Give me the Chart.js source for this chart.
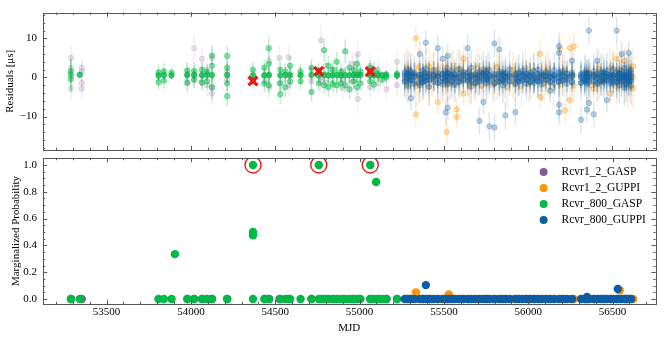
<!DOCTYPE html>
<html><head><meta charset="utf-8">
<script src="https://cdn.jsdelivr.net/npm/chart.js@4.4.1/dist/chart.umd.min.js"></script>
<style>
html,body{margin:0;padding:0;background:#fff;}
#wrap{position:relative;width:665px;height:337px;overflow:hidden;}
canvas{position:absolute;left:0;top:0;}
</style>
</head><body>
<div id="wrap"><canvas id="cTop" width="665" height="337"></canvas><canvas id="cBot" width="665" height="337"></canvas></div>
<script>
// ---------------- DATA ----------------
const seriesNames = ['Rcvr1_2_GASP', 'Rcvr1_2_GUPPI', 'Rcvr_800_GASP', 'Rcvr_800_GUPPI'];
const seriesColors = ['#845B97', '#FF9500', '#00B945', '#0C5DA5'];

const xTickValues = [53500, 54000, 54500, 55000, 55500, 56000, 56500];
const resTickValues = [-10, 0, 10];
const probTickValues = [0, 0.2, 0.4, 0.6, 0.8, 1.0];

// Rcvr1_2_GASP (purple) residuals per epoch
const purpleEpochs = [53290, 53353, 53980, 54019, 54066, 54096, 54125, 54215, 54440, 54465, 54525, 54580, 54715, 54770, 54800, 54845, 54900, 54960, 54990, 55063, 55110, 55160, 55222];
const purpleRes = [
  [5.0, 2.4, -2.8, 0.3], [2.5, 1.5, -1.4, -2.9], [1.0, -1.2], [7.5, 1.0, -0.5], [4.8, 0.8, -1.5],
  [2.0, -1.9], [5.0, -2.5, -4.0], [1.5, -0.5], [0.5, -1.0], [4.2, -2.5, 0.5], [5.0, -1.5],
  [5.2, 0.5, -2.0], [2.0, -1.0], [9.5, 0.0, -1.0], [3.0, -1.3], [2.0, -2.0], [1.5, -0.5, -2.5],
  [3.5, -1.0], [6.0, -5.5, 1.0], [3.0, -2.5], [2.0, -1.5], [1.0, -3.0], [4.0, 0.5, -2.0]
];
const purpleErr = [
  [3.0, 3.5, 3.0, 3.5], [2.5, 2.5, 2.0, 2.5], [3.0, 3.0], [3.5, 3.0, 2.5], [3.0, 3.0, 2.5],
  [3.0, 3.0], [3.5, 3.0, 3.0], [3.0, 3.0], [3.0, 3.0], [3.5, 3.0, 3.0], [3.0, 3.0],
  [3.0, 2.5, 3.0], [3.0, 3.0], [4.0, 3.0, 3.0], [3.0, 3.0], [3.0, 3.0], [3.0, 3.0, 3.0],
  [3.0, 3.0], [3.5, 3.5, 3.0], [3.0, 3.0], [3.0, 3.0], [3.0, 3.0], [3.0, 3.0, 3.0]
];

// Rcvr1_2_GUPPI (orange)
const orangeEpochs = [55280, 55300, 55334, 55350, 55380, 55410, 55430, 55464, 55480, 55517, 55535, 55555, 55576, 55600, 55617, 55650, 55680, 55700, 55725, 55760, 55790, 55815, 55840, 55875, 55910, 55935, 55960, 55985, 56005, 56030, 56071, 56095, 56120, 56150, 56189, 56218, 56248, 56271, 56340, 56370, 56389, 56420, 56445, 56484, 56500, 56525, 56545, 56572, 56590, 56602, 56622];
const orangeRes = [
  [0.5, -1.8, 2.4], [-0.6, 1.9], [0.8, 10.1, -9.4, -2.2], [0.2, 2.6, -1.5], [-0.9, 1.4],
  [0.6, -2.4, 2.9], [-0.3, 1.7], [0.4, -6.3, 2.2], [-1.2, 1.0], [0.3, -14.0, 2.5, -2.0],
  [0.9, -1.6], [-0.4, 2.3], [0.2, -8.2, -10.1, 1.8], [-0.8, 2.0], [0.5, -4.1, 4.8],
  [-0.5, 1.6, -2.3], [0.7, -1.4], [-0.2, 2.5], [0.4, -2.1, 1.3], [-0.6, 2.2],
  [0.3, -1.9], [0.8, 2.7, -1.2], [-0.4, 1.5], [0.2, -2.5], [0.6, 2.0, -1.0],
  [-0.7, 1.2], [0.4, -2.2], [-0.1, 2.4], [0.5, -1.7], [-0.3, 1.9],
  [0.2, 6.0, -5.0], [0.7, -1.5], [-0.5, 2.1], [0.3, -2.6], [0.6, 7.2, -1.8],
  [-0.4, -8.4, 2.0], [0.2, 7.5, -5.8], [0.5, 8.0, -2.1], [-0.3, 1.8], [0.4, -2.0],
  [-2.9, 0.8], [0.2, 2.2, -1.4], [-0.6, 1.5], [0.3, -4.1, 2.4], [-0.2, 1.9],
  [0.5, 4.8, -2.3], [-0.4, 2.0], [0.6, 4.3, -2.0], [-0.3, 2.6, -2.5], [0.0, 1.7, -1.9],
  [0.1, 2.8, -2.8]
];
const orangeErr = [
  [3.5, 4.5, 5.0], [4.5, 5.0], [3.5, 3.0, 3.0, 5.0], [3.5, 5.0, 4.5], [4.5, 4.5],
  [3.5, 5.0, 5.0], [4.5, 4.5], [3.5, 3.0, 4.5], [4.5, 4.0], [3.5, 3.5, 4.5, 4.5],
  [3.5, 4.5], [4.5, 5.0], [3.5, 3.0, 3.0, 4.5], [4.5, 4.5], [3.5, 3.0, 3.5],
  [4.5, 4.5, 5.0], [3.5, 4.5], [4.5, 5.0], [3.5, 4.5, 4.5], [4.5, 5.0],
  [3.5, 4.5], [3.5, 5.0, 4.5], [4.5, 4.5], [3.5, 5.0], [3.5, 4.5, 4.5],
  [4.5, 4.5], [3.5, 5.0], [4.5, 5.0], [3.5, 4.5], [4.5, 4.5],
  [3.5, 3.5, 3.0], [3.5, 4.5], [4.5, 5.0], [3.5, 5.0], [3.5, 3.5, 4.5],
  [4.5, 3.0, 4.5], [3.5, 3.5, 3.0], [3.5, 3.5, 4.5], [4.5, 4.5], [3.5, 5.0],
  [3.0, 3.5], [3.5, 5.0, 4.5], [4.5, 4.5], [3.5, 3.0, 5.0], [4.5, 4.5],
  [3.5, 3.5, 4.5], [4.5, 5.0], [3.5, 3.5, 4.5], [4.5, 5.0, 5.0], [3.5, 4.5, 4.5],
  [3.5, 5.0, 5.0]
];

// Rcvr_800_GASP (green)
const greenEpochs = [53288, 53341, 53808, 53840, 53885, 53978, 54019, 54066, 54096, 54125, 54215, 54368, 54435, 54462, 54530, 54560, 54588, 54650, 54715, 54758, 54790, 54815, 54840, 54865, 54890, 54915, 54940, 54965, 54985, 55005, 55063, 55085, 55110, 55135, 55158, 55222];
const greenRes = [
  [0.8, 1.6, -0.4], [0.7, 0.7], [0.6, 0.4, 1.3, -1.2], [0.6, 0.7, 1.6, -0.8], [0.6, 0.5, 1.2],
  [0.5, 0.7, -1.4, 1.8], [0.6, 0.6, 1.7, -0.6], [0.6, 0.5, 2.0, -1.2], [0.6, 0.8, -1.0, 1.5],
  [0.7, 0.5, 3.0, -2.5, 5.6], [0.6, 0.7, 5.5, -4.8, 2.5, -1.5], [0.5, 0.6, 2.0, -0.9, -0.9],
  [0.6, 0.5, 2.5, -1.5], [0.7, 0.6, 7.5, 3.5, -2.0], [0.6, 0.5, -4.3, 2.0, -1.5],
  [0.6, 0.7, 1.5, -2.5], [0.7, 0.5, 3.0, -1.0], [0.6, 0.6, 1.5, -1.0], [0.6, 0.7, -3.7, 2.5],
  [0.6, 0.5, 1.7, -1.5, 1.6], [0.6, 0.7, 7.0, -2.0], [0.5, 0.6, 3.0, -2.5], [0.6, 0.6, 2.0, -1.5],
  [0.6, 0.7, 4.0, -2.0], [0.5, 0.6, 1.5, -1.5], [0.6, 0.6, 6.7, -2.0], [0.6, 0.5, 2.5, -3.0],
  [0.7, 0.6, 2.0, -1.0], [0.6, 0.6, -2.5, 3.5], [0.6, 0.7, 1.5, -1.5],
  [0.5, 0.6, 1.5, 2.5, -1.0, 1.5], [0.6, 0.7, 2.0, -1.8], [0.5, 0.6, 1.0], [0.6, 0.5, -0.5],
  [0.6, 0.7, 0.0], [0.6, 0.5, 1.0]
];
const greenErr = [
  [4.0, 3.0, 3.5], [0.8, 0.8], [1.5, 1.5, 2.0, 2.0], [1.5, 1.5, 2.0, 2.0], [1.0, 1.0, 1.5],
  [1.5, 1.5, 2.0, 2.0], [1.5, 1.5, 2.0, 2.0], [1.8, 1.8, 2.0, 2.0], [1.5, 1.5, 2.0, 2.0],
  [2.0, 2.0, 3.0, 3.0, 2.5], [2.5, 2.0, 2.5, 2.5, 2.0, 2.0], [1.5, 1.5, 2.0, 2.0, 1.0],
  [2.0, 2.0, 2.0, 2.0], [2.0, 2.0, 3.0, 2.0, 2.0], [2.0, 2.0, 2.5, 2.0, 2.0],
  [2.0, 2.0, 2.0, 2.5], [2.0, 2.0, 2.5, 2.0], [2.0, 2.0, 2.0, 2.0], [2.0, 2.0, 2.5, 2.0],
  [2.0, 2.0, 2.0, 2.0, 1.0], [2.0, 2.0, 3.0, 2.0], [2.0, 2.0, 2.5, 2.5], [2.0, 2.0, 2.0, 2.0],
  [2.0, 2.0, 2.5, 2.0], [2.0, 2.0, 2.0, 2.0], [2.0, 2.0, 3.0, 2.0], [2.0, 2.0, 2.0, 2.5],
  [2.0, 2.0, 2.0, 2.0], [2.0, 2.0, 2.0, 2.5], [2.0, 2.0, 2.0, 2.0],
  [2.0, 2.0, 2.0, 2.0, 2.0, 1.0], [2.0, 2.0, 2.0, 2.0], [1.5, 1.5, 2.0], [1.0, 1.0, 1.5],
  [1.0, 1.0, 1.5], [1.0, 1.0, 1.5]
];

// Rcvr_800_GUPPI (blue)
const blueEpochs = [55268, 55288, 55305, 55325, 55357, 55375, 55393, 55413, 55440, 55464, 55493, 55511, 55523, 55545, 55565, 55590, 55615, 55641, 55662, 55688, 55711, 55735, 55752, 55770, 55800, 55829, 55850, 55865, 55890, 55924, 55945, 55968, 55990, 56012, 56035, 56058, 56080, 56105, 56130, 56155, 56183, 56205, 56230, 56260, 56313, 56335, 56348, 56360, 56389, 56410, 56432, 56450, 56466, 56488, 56505, 56525, 56540, 56554, 56570, 56582, 56596, 56610];
const blueRes = [
  [0.3, -1.1, 1.4, 0.9, -0.3, -1.0],
  [-0.4, 0.9, 2.0, -2.2, -0.8, 0.5, 1.1],
  [0.6, -0.8, -5.3, 1.5, 1.0, -0.6, 0.2],
  [0.2, 1.2, -1.6, -1.1, 0.3, 0.8],
  [-0.5, 0.7, 6.0, -2.0, 0.6, -1.4, 0.0],
  [0.4, -1.3, 1.8, 0.9, -0.3, -1.0],
  [0.1, 8.9, -0.9, 2.3, -0.8, 0.5, 1.1],
  [-0.7, 0.8, -2.4, 1.0, -0.6, 0.2],
  [0.5, -0.4, 1.9, -1.1, 0.3, 0.8],
  [0.2, 7.5, -1.4, 1.1, 0.6, -1.4, 0.0],
  [-0.3, 4.8, 0.9, -1.8, 0.9, -0.3, -1.0],
  [0.4, -8.9, -0.6, 1.6, -0.8, 0.5, 1.1],
  [0.0, 5.5, -7.7, 1.2, -1.5, 1.0, -0.6, 0.2],
  [0.6, -0.9, 1.7, -1.1, 0.3, 0.8],
  [-0.2, 1.0, -1.9, 0.6, -1.4, 0.0],
  [0.3, -1.2, 2.2, 0.9, -0.3, -1.0],
  [-0.5, 0.7, 1.5, -0.8, 0.5, 1.1],
  [0.2, 7.5, -1.0, 1.3, 1.0, -0.6, 0.2],
  [0.4, -0.7, 2.5, -2.3, -1.1, 0.3, 0.8],
  [-0.1, 1.1, -1.5, 0.6, -1.4, 0.0],
  [0.5, -11.1, -0.8, 1.4, 0.9, -0.3, -1.0],
  [-0.3, -6.3, 0.9, 2.0, -0.8, 0.5, 1.1],
  [0.2, -1.4, 1.6, 1.0, -0.6, 0.2],
  [0.6, -12.5, -0.5, 1.9, -1.1, 0.3, 0.8],
  [-0.2, -12.8, 8.7, 1.0, -1.6, 0.6, -1.4, 0.0],
  [0.3, 7.2, -1.1, 1.5, 0.9, -0.3, -1.0],
  [-0.6, 0.8, -2.0, -0.8, 0.5, 1.1],
  [0.1, -9.7, 1.2, -1.3, 1.0, -0.6, 0.2],
  [0.4, -0.9, 2.1, -1.1, 0.3, 0.8],
  [-0.3, -8.9, 1.0, -1.7, 0.6, -1.4, 0.0],
  [0.2, 1.4, -1.0, 0.9, -0.3, -1.0],
  [0.5, -0.6, 1.8, -0.8, 0.5, 1.1],
  [-0.4, 0.9, -1.5, 1.0, -0.6, 0.2],
  [0.3, -1.2, 1.3, -1.1, 0.3, 0.8],
  [0.0, 1.6, -0.8, 0.6, -1.4, 0.0],
  [0.4, -1.0, 2.0, 0.9, -0.3, -1.0],
  [-0.2, 0.7, -1.8, -0.8, 0.5, 1.1],
  [0.3, -0.6, 1.5, 1.0, -0.6, 0.2],
  [0.1, -3.4, 1.1, -1.2, -1.1, 0.3, 0.8],
  [-0.5, 0.6, 1.9, 0.6, -1.4, 0.0],
  [0.2, -7.0, -8.9, 6.3, 8.0, -1.1, 1.4, 0.9, -0.3, -1.0],
  [0.4, -0.8, 1.7, -0.8, 0.5, 1.1],
  [-0.3, 1.0, -1.6, 1.0, -0.6, 0.2],
  [0.3, 4.3, -1.2, 1.2, -1.1, 0.3, 0.8],
  [0.1, -10.8, 0.9, -1.4, 0.6, -1.4, 0.0],
  [-0.4, 1.3, -0.9, 0.9, -0.3, -1.0],
  [0.2, -8.2, 1.0, -1.5, -0.8, 0.5, 1.1],
  [0.0, 12.0, -6.5, 1.1, -1.2, 1.0, -0.6, 0.2],
  [0.3, -9.4, -0.8, 1.6, -1.1, 0.3, 0.8],
  [-0.2, 4.3, 1.0, -1.7, 0.6, -1.4, 0.0],
  [0.4, -0.9, 1.5, 0.9, -0.3, -1.0],
  [-0.1, 1.2, -1.3, -0.8, 0.5, 1.1],
  [0.3, -5.8, -0.7, 1.8, 1.0, -0.6, 0.2],
  [-0.4, 0.8, -1.6, -1.1, 0.3, 0.8],
  [0.5, -1.0, 2.2, 0.6, -1.4, 0.0],
  [0.1, 12.0, -1.3, 1.4, 0.9, -0.3, -1.0],
  [-0.3, 0.9, -2.0, -0.8, 0.5, 1.1],
  [0.2, 6.0, -1.1, 1.7, 1.0, -0.6, 0.2],
  [0.4, -0.7, 2.4, -2.6, -1.1, 0.3, 0.8],
  [-0.2, 1.3, -1.8, 0.6, -1.4, 0.0],
  [0.3, 6.3, -1.0, 1.5, 0.9, -0.3, -1.0],
  [0.1, -0.8, 1.9, -2.2, -0.8, 0.5, 1.1]
];
const blueErr = [
  [3.4, 4.2, 4.8, 2.8, 3.2, 3.6],
  [3.6, 3.0, 4.8, 4.4, 3.0, 2.6, 3.4],
  [3.0, 4.0, 3.2, 4.6, 3.4, 3.0, 2.6],
  [3.6, 4.4, 3.8, 2.6, 3.6, 3.0],
  [3.2, 3.8, 3.2, 4.4, 3.2, 2.8, 3.8],
  [3.0, 4.6, 4.2, 2.8, 3.2, 3.6],
  [3.8, 3.0, 3.6, 5.0, 3.0, 2.6, 3.4],
  [4.2, 3.2, 4.8, 3.4, 3.0, 2.6],
  [3.8, 3.0, 4.6, 2.6, 3.6, 3.0],
  [3.2, 3.5, 4.0, 3.6, 3.2, 2.8, 3.8],
  [3.6, 3.2, 3.0, 4.4, 2.8, 3.2, 3.6],
  [3.0, 3.5, 3.8, 4.4, 3.0, 2.6, 3.4],
  [3.8, 3.0, 3.0, 3.6, 4.6, 3.4, 3.0, 2.6],
  [3.2, 4.4, 4.8, 2.6, 3.6, 3.0],
  [3.8, 3.6, 4.4, 3.2, 2.8, 3.8],
  [3.0, 4.0, 5.0, 2.8, 3.2, 3.6],
  [3.6, 3.2, 4.4, 3.0, 2.6, 3.4],
  [3.2, 3.5, 3.8, 4.0, 3.4, 3.0, 2.6],
  [3.0, 3.6, 4.6, 4.4, 2.6, 3.6, 3.0],
  [3.8, 4.0, 4.4, 3.2, 2.8, 3.8],
  [3.2, 3.5, 3.6, 4.4, 2.8, 3.2, 3.6],
  [3.6, 3.0, 3.2, 4.8, 3.0, 2.6, 3.4],
  [3.0, 4.4, 4.0, 3.4, 3.0, 2.6],
  [3.6, 3.5, 3.8, 4.6, 2.6, 3.6, 3.0],
  [3.2, 3.5, 3.5, 3.6, 4.4, 3.2, 2.8, 3.8],
  [3.8, 3.2, 4.0, 4.4, 2.8, 3.2, 3.6],
  [3.6, 3.0, 4.6, 3.0, 2.6, 3.4],
  [3.2, 3.5, 3.8, 4.0, 3.4, 3.0, 2.6],
  [3.0, 3.8, 4.8, 2.6, 3.6, 3.0],
  [3.6, 3.2, 3.2, 4.4, 3.2, 2.8, 3.8],
  [3.2, 4.4, 3.8, 2.8, 3.2, 3.6],
  [3.0, 3.6, 4.6, 3.0, 2.6, 3.4],
  [3.8, 3.2, 4.4, 3.4, 3.0, 2.6],
  [3.2, 4.4, 3.8, 2.6, 3.6, 3.0],
  [3.6, 4.6, 3.2, 3.2, 2.8, 3.8],
  [3.0, 4.0, 4.8, 2.8, 3.2, 3.6],
  [3.6, 3.2, 4.4, 3.0, 2.6, 3.4],
  [3.2, 3.8, 4.4, 3.4, 3.0, 2.6],
  [3.0, 3.0, 3.6, 4.0, 2.6, 3.6, 3.0],
  [3.8, 3.2, 4.6, 3.2, 2.8, 3.8],
  [3.2, 3.5, 3.0, 3.0, 3.5, 3.8, 4.0, 2.8, 3.2, 3.6],
  [3.0, 4.0, 4.4, 3.0, 2.6, 3.4],
  [3.6, 3.2, 4.4, 3.4, 3.0, 2.6],
  [3.2, 3.0, 4.0, 3.6, 2.6, 3.6, 3.0],
  [3.0, 3.5, 3.6, 4.4, 3.2, 2.8, 3.8],
  [3.6, 4.4, 3.2, 2.8, 3.2, 3.6],
  [3.2, 3.2, 3.6, 4.4, 3.0, 2.6, 3.4],
  [3.6, 3.5, 3.0, 3.8, 4.0, 3.4, 3.0, 2.6],
  [3.0, 3.2, 3.6, 4.4, 2.6, 3.6, 3.0],
  [3.6, 3.0, 3.2, 4.4, 3.2, 2.8, 3.8],
  [3.2, 3.8, 4.4, 2.8, 3.2, 3.6],
  [3.0, 4.0, 3.8, 3.0, 2.6, 3.4],
  [3.6, 3.0, 3.2, 4.6, 3.4, 3.0, 2.6],
  [3.2, 3.6, 4.4, 2.6, 3.6, 3.0],
  [3.0, 4.0, 4.8, 3.2, 2.8, 3.8],
  [3.6, 3.5, 4.0, 3.8, 2.8, 3.2, 3.6],
  [3.2, 3.6, 4.6, 3.0, 2.6, 3.4],
  [3.0, 3.2, 3.8, 4.4, 3.4, 3.0, 2.6],
  [3.6, 3.2, 4.8, 4.6, 2.6, 3.6, 3.0],
  [3.2, 4.0, 4.4, 3.2, 2.8, 3.8],
  [3.0, 3.0, 3.8, 4.4, 2.8, 3.2, 3.6],
  [3.6, 3.8, 4.6, 4.8, 3.0, 2.6, 3.4]
];

// TOAs flagged as outliers (red crosses / red circles)
const flaggedMJD = [54368, 54758, 55063];
const flaggedRes = [-0.9, 1.6, 1.5];
const flaggedProb = [1.0, 1.0, 1.0];

// Marginalized outlier probabilities (bottom panel)
const purpleProbMJD = [53290, 53353, 53980, 54019, 54066, 54096, 54125, 54215, 54440, 54465, 54525, 54580, 54715, 54770, 54800, 54845, 54900, 54960, 54990, 55063, 55110, 55160, 55222];
const purpleProb = [0, 0, 0, 0, 0, 0, 0, 0, 0, 0, 0, 0, 0, 0, 0, 0, 0, 0, 0, 0, 0, 0, 0];

const orangeProbMJD = [55280, 55300, 55334, 55350, 55380, 55410, 55430, 55464, 55480, 55517, 55535, 55555, 55576, 55600, 55617, 55650, 55680, 55700, 55725, 55760, 55790, 55815, 55840, 55875, 55910, 55935, 55960, 55985, 56005, 56030, 56071, 56095, 56120, 56150, 56189, 56218, 56248, 56271, 56340, 56370, 56389, 56420, 56445, 56484, 56500, 56525, 56545, 56572, 56590, 56602, 56622, 55334, 55529, 56543];
const orangeProb = [0, 0, 0, 0, 0, 0, 0, 0, 0, 0, 0, 0, 0, 0, 0, 0, 0, 0, 0, 0, 0, 0, 0, 0, 0, 0, 0, 0, 0, 0, 0, 0, 0, 0, 0, 0, 0, 0, 0, 0, 0, 0, 0, 0, 0, 0, 0, 0, 0, 0, 0, 0.05, 0.035, 0.065];

const greenProbMJD = [53288, 53341, 53808, 53840, 53885, 53978, 54019, 54066, 54096, 54125, 54215, 54368, 54435, 54462, 54530, 54560, 54588, 54650, 54715, 54758, 54790, 54815, 54840, 54865, 54890, 54915, 54940, 54965, 54985, 55005, 55063, 55085, 55110, 55135, 55158, 55222, 53905, 54368, 54368, 54368, 54758, 55063, 55098];
const greenProb = [0, 0, 0, 0, 0, 0, 0, 0, 0, 0, 0, 0, 0, 0, 0, 0, 0, 0, 0, 0, 0, 0, 0, 0, 0, 0, 0, 0, 0, 0, 0, 0, 0, 0, 0, 0, 0.335, 1.0, 0.5, 0.475, 1.0, 1.0, 0.873];

const blueProbMJD = [55268, 55288, 55305, 55325, 55357, 55375, 55393, 55413, 55440, 55464, 55493, 55511, 55523, 55545, 55565, 55590, 55615, 55641, 55662, 55688, 55711, 55735, 55752, 55770, 55800, 55829, 55850, 55865, 55890, 55924, 55945, 55968, 55990, 56012, 56035, 56058, 56080, 56105, 56130, 56155, 56183, 56205, 56230, 56260, 56313, 56335, 56348, 56360, 56389, 56410, 56432, 56450, 56466, 56488, 56505, 56525, 56540, 56554, 56570, 56582, 56596, 56610, 55393, 56531, 56348];
const blueProb = [0, 0, 0, 0, 0, 0, 0, 0, 0, 0, 0, 0, 0, 0, 0, 0, 0, 0, 0, 0, 0, 0, 0, 0, 0, 0, 0, 0, 0, 0, 0, 0, 0, 0, 0, 0, 0, 0, 0, 0, 0, 0, 0, 0, 0, 0, 0, 0, 0, 0, 0, 0, 0, 0, 0, 0, 0, 0, 0, 0, 0, 0, 0.104, 0.075, 0.015];

// ---------------- HELPERS ----------------
function rgba(hex, a) {
  const n = parseInt(hex.slice(1), 16);
  return 'rgba(' + ((n >> 16) & 255) + ',' + ((n >> 8) & 255) + ',' + (n & 255) + ',' + a + ')';
}
function toaPoints(epochs, res, err) {
  const pts = [];
  epochs.forEach((m, i) => res[i].forEach((r, j) => pts.push({x: m, y: r, e: err[i] ? err[i][j] : undefined})));
  return pts;
}
function pairPoints(xs, ys) { return xs.map((x, i) => ({x: x, y: ys[i]})); }

const X_MIN = 53123, X_MAX = 56755;
const FONT = "'Liberation Serif', 'DejaVu Serif', serif";
Chart.defaults.font.family = FONT;
Chart.defaults.font.size = 11;
Chart.defaults.color = '#000';

const errorBars = {
  id: 'errorBars',
  beforeDatasetDraw(chart, args) {
    const ds = chart.data.datasets[args.index];
    if (!ds.errorColor) return;
    const {ctx, chartArea: a} = chart;
    const xs = chart.scales.x, ys = chart.scales.y;
    ctx.save();
    ctx.beginPath(); ctx.rect(a.left, a.top, a.right - a.left, a.bottom - a.top); ctx.clip();
    ctx.strokeStyle = ds.errorColor; ctx.lineWidth = ds.errorWidth;
    ds.data.forEach(p => {
      if (p.e === undefined) return;
      const px = xs.getPixelForValue(p.x);
      ctx.beginPath();
      ctx.moveTo(px, ys.getPixelForValue(p.y - p.e));
      ctx.lineTo(px, ys.getPixelForValue(p.y + p.e));
      ctx.stroke();
    });
    ctx.restore();
  }
};

const frame = {
  id: 'frame',
  afterDatasetsDraw(chart, args, o) {
    const {ctx, chartArea: a} = chart;
    const xs = chart.scales.x, ys = chart.scales.y;
    const L = a.left, R = a.right, T = a.top, B = a.bottom;
    ctx.save();
    ctx.strokeStyle = o.color; ctx.lineWidth = o.width;
    const seg = (x1, y1, x2, y2) => { ctx.beginPath(); ctx.moveTo(x1, y1); ctx.lineTo(x2, y2); ctx.stroke(); };
    const vx = (v, len) => { const p = Math.round(xs.getPixelForValue(v)) + 0.5; if (p < L + 1 || p > R - 1) return; seg(p, B, p, B - len); seg(p, T, p, T + len); };
    const vy = (v, len) => { const p = Math.round(ys.getPixelForValue(v)) + 0.5; if (p < T + 1 || p > B - 1) return; seg(L, p, L + len, p); seg(R, p, R - len, p); };
    for (let k = Math.ceil(xs.min / o.xMinor); k * o.xMinor <= xs.max; k++) vx(k * o.xMinor, 2.2);
    o.xMajor.forEach(v => vx(v, 4.2));
    for (let k = Math.ceil(ys.min / o.yMinor - 1e-9); k * o.yMinor <= ys.max + 1e-9; k++) vy(k * o.yMinor, 2.2);
    o.yMajor.forEach(v => vy(v, 4.2));
    ctx.strokeRect(Math.round(L) + 0.5, Math.round(T) + 0.5, Math.round(R - L), Math.round(B - T));
    ctx.restore();
  }
};

const legendBox = {
  id: 'legendBox',
  afterDraw(chart, args, o) {
    const {ctx, chartArea: a} = chart;
    ctx.save();
    ctx.font = o.font; ctx.textBaseline = 'middle'; ctx.textAlign = 'left';
    seriesNames.forEach((name, i) => {
      const y = a.top + o.top + i * o.gap;
      ctx.fillStyle = seriesColors[i];
      ctx.beginPath(); ctx.arc(a.right - o.markerRight, y, 4, 0, Math.PI * 2); ctx.fill();
      ctx.fillStyle = '#000';
      ctx.fillText(name, a.right - o.textRight, y);
    });
    ctx.restore();
  }
};

// ---------------- TOP PANEL ----------------
const topAlpha = [0.18, 0.32, 0.45, 0.28];
const topEpochs = [purpleEpochs, orangeEpochs, greenEpochs, blueEpochs];
const topRes = [purpleRes, orangeRes, greenRes, blueRes];
const topErr = [purpleErr, orangeErr, greenErr, blueErr];
const topDatasets = seriesNames.map((name, i) => ({
  label: name,
  data: toaPoints(topEpochs[i], topRes[i], topErr[i]),
  errorColor: rgba(seriesColors[i], topAlpha[i] * 0.55),
  errorWidth: 1.5,
  backgroundColor: rgba(seriesColors[i], topAlpha[i]),
  borderColor: rgba(seriesColors[i], Math.min(1, topAlpha[i] * 1.2)),
  borderWidth: 0.8,
  pointRadius: 2.7,
  order: 4 - i
}));
topDatasets.push({
  label: 'flagged',
  data: pairPoints(flaggedMJD, flaggedRes),
  pointStyle: 'crossRot',
  pointRadius: 6.3,
  borderColor: '#F01414',
  borderWidth: 3.2,
  order: 0
});

new Chart(document.getElementById('cTop'), {
  type: 'scatter',
  data: {datasets: topDatasets},
  plugins: [errorBars, frame],
  options: {
    responsive: false, animation: false, events: [],
    layout: {padding: {top: 4, right: 6, bottom: 187, left: 0}},
    plugins: {
      legend: {display: false}, tooltip: {enabled: false},
      frame: {color: '#555', width: 1, xMajor: xTickValues, xMinor: 100, yMajor: resTickValues, yMinor: 2}
    },
    scales: {
      x: {type: 'linear', display: false, min: X_MIN, max: X_MAX},
      y: {
        type: 'linear', min: -18.55, max: 16.6,
        afterBuildTicks: s => { s.ticks = resTickValues.map(v => ({value: v})); },
        afterFit: s => { s.width = 43; },
        grid: {display: false, drawTicks: false}, border: {display: false},
        ticks: {padding: 6, color: '#000', callback: v => (v < 0 ? '\u2212' : '') + Math.abs(v)},
        title: {display: true, text: 'Residuals [\u03bcs]', color: '#000', padding: {top: 4, bottom: 0}}
      }
    }
  }
});

// ---------------- BOTTOM PANEL ----------------
const botMJD = [purpleProbMJD, orangeProbMJD, greenProbMJD, blueProbMJD];
const botProb = [purpleProb, orangeProb, greenProb, blueProb];
const botDatasets = seriesNames.map((name, i) => ({
  label: name,
  data: pairPoints(botMJD[i], botProb[i]),
  backgroundColor: seriesColors[i],
  borderWidth: 0,
  pointRadius: 4.2,
  order: 4 - i
}));
botDatasets.push({
  label: 'flagged',
  data: pairPoints(flaggedMJD, flaggedProb),
  pointStyle: 'circle',
  pointRadius: 8,
  backgroundColor: 'rgba(0,0,0,0)',
  borderColor: '#F01414',
  borderWidth: 1.4,
  order: 0
});

new Chart(document.getElementById('cBot'), {
  type: 'scatter',
  data: {datasets: botDatasets},
  plugins: [frame, legendBox],
  options: {
    responsive: false, animation: false, events: [],
    layout: {padding: {top: 158, right: 6, bottom: 0, left: 0}},
    plugins: {
      legend: {display: false}, tooltip: {enabled: false},
      frame: {color: '#555', width: 1, xMajor: xTickValues, xMinor: 100, yMajor: probTickValues, yMinor: 0.05},
      legendBox: {font: "11.5px " + FONT, top: 14, gap: 16, markerRight: 112, textRight: 94}
    },
    scales: {
      x: {
        type: 'linear', min: X_MIN, max: X_MAX,
        afterBuildTicks: s => { s.ticks = xTickValues.map(v => ({value: v})); },
        afterFit: s => { s.height = 33; },
        grid: {display: false, drawTicks: false}, border: {display: false},
        ticks: {padding: 2, maxRotation: 0, autoSkip: false, color: '#000', callback: v => String(v)},
        title: {display: true, text: 'MJD', color: '#000', padding: {top: 0, bottom: 2.5}}
      },
      y: {
        type: 'linear', min: -0.037, max: 1.052,
        afterBuildTicks: s => { s.ticks = probTickValues.map(v => ({value: v})); },
        afterFit: s => { s.width = 43; },
        grid: {display: false, drawTicks: false}, border: {display: false},
        ticks: {padding: 6, color: '#000', callback: v => Number(v).toFixed(1)},
        title: {display: true, text: 'Marginalized Probability', color: '#000', padding: {top: 10, bottom: 0}}
      }
    }
  }
});
</script>
</body></html>
